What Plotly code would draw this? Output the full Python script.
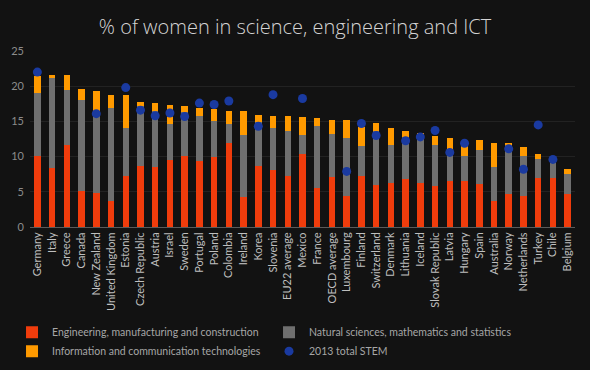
import plotly.graph_objects as go

countries = ["Germany", "Italy", "Greece", "Canada", "New Zealand", "United Kingdom", "Estonia",
             "Czech Republic", "Austria", "Israel", "Sweden", "Portugal", "Poland", "Colombia",
             "Ireland", "Korea", "Slovenia", "EU22 average", "Mexico", "France", "OECD average",
             "Luxembourg", "Finland", "Switzerland", "Denmark", "Lithuania", "Iceland",
             "Slovak Republic", "Latvia", "Hungary", "Spain", "Australia", "Norway",
             "Netherlands", "Turkey", "Chile", "Belgium"]

engineering = [10.1, 8.4, 11.7, 5.1, 4.8, 3.7, 7.3, 8.65, 8.5, 9.55, 10.1, 9.4, 10.0, 11.9,
               4.3, 8.65, 8.1, 7.3, 10.3, 5.6, 7.1, 4.35, 7.2, 6.0, 6.3, 6.8, 6.2, 5.8, 6.5,
               6.5, 6.1, 3.7, 4.7, 4.35, 6.9, 7.0, 4.7]
natural_sci = [9.0, 12.7, 7.8, 12.9, 11.7, 13.2, 6.7, 8.55, 8.0, 5.05, 6.2, 6.4, 5.1, 2.7,
               8.7, 6.25, 6.0, 6.3, 2.7, 8.7, 6.1, 8.25, 4.3, 7.7, 5.3, 6.0, 6.1, 5.8, 4.6,
               3.6, 4.9, 4.8, 6.9, 5.75, 2.7, 2.2, 2.9]
ict = [2.3, 0.5, 2.1, 1.6, 2.8, 1.8, 4.7, 0.5, 1.1, 2.8, 0.9, 1.1, 1.6, 1.9,
       3.5, 1.0, 1.7, 2.1, 2.6, 1.2, 2.0, 2.6, 2.7, 1.05, 2.4, 0.8, 1.0, 1.3, 1.5,
       1.8, 1.3, 3.4, 0.3, 1.25, 0.8, 0.5, 0.6]
stem_2013 = [22.0, None, None, None, 16.1, None, 19.8, 16.6, 15.8, 16.2, 15.7, 17.6, 17.4, 17.9,
             None, 14.3, 18.8, None, 18.25, None, None, 7.9, 14.7, 13.0, None, 12.25, 12.8,
             13.7, 10.6, 11.9, None, None, 11.1, 8.2, 14.5, 9.6, None]

y_ticks = [0, 5, 10, 15, 20, 25]

fnt = "Lato, sans-serif"

fig = go.Figure()
fig.add_trace(go.Bar(x=countries, y=engineering, name="Engineering, manufacturing and construction",
                     marker=dict(color="#f03c0c", line=dict(width=0))))
fig.add_trace(go.Bar(x=countries, y=natural_sci, name="Natural sciences, mathematics and statistics",
                     marker=dict(color="#6f6f6f", line=dict(width=0))))
fig.add_trace(go.Bar(x=countries, y=ict, name="Information and communication technologies",
                     marker=dict(color="#ff9a00", line=dict(width=0))))
fig.add_trace(go.Scatter(x=countries, y=stem_2013, name="2013 total STEM", mode="markers",
                         marker=dict(color="#1a3aa0", size=9, line=dict(width=0))))

fig.update_layout(
    width=590, height=370,
    barmode="stack", bargap=0.56,
    paper_bgcolor="#121212", plot_bgcolor="#121212",
    margin=dict(l=30, r=15, t=51, b=143, autoexpand=False),
    title=dict(text="% of women in science, engineering and ICT", x=0.5, xanchor="center",
               y=0.928, yanchor="middle",
               font=dict(family="Open Sans", size=20, color="#d4d4d4", weight=300)),
    font=dict(family=fnt, color="#a6a6a6", size=11),
    showlegend=True,
    legend=dict(orientation="h", traceorder="normal", x=-0.033, xanchor="left", y=-0.515, yanchor="top",
                font=dict(family=fnt, size=10.5, color="#a6a6a6"),
                entrywidth=212, entrywidthmode="pixels", itemwidth=30,
                bgcolor="rgba(0,0,0,0)", tracegroupgap=0),
)
fig.update_xaxes(tickangle=-90, tickfont=dict(family=fnt, size=11, color="#bfbfbf"), showgrid=False,
                 showline=True, linecolor="#5a5a5a", linewidth=1, ticks="", range=[-0.5, 36.5],
                 automargin=False)
fig.update_yaxes(range=[0, 25], tickvals=y_ticks, showgrid=True, gridcolor="#222222",
                 zeroline=False, tickfont=dict(family=fnt, size=11, color="#8c8c8c"), showline=False,
                 automargin=False, ticklabelstandoff=5)

fig.write_html("out.html", config={"displayModeBar": False},
               post_script="document.body.style.margin='0';document.body.style.background='#121212';")
